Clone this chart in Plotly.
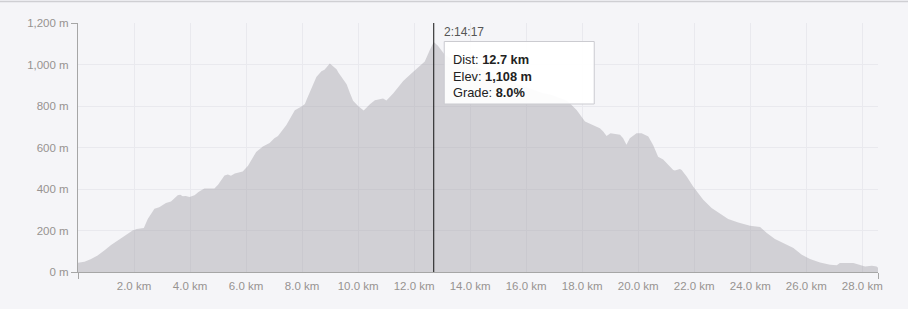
import plotly.graph_objects as go

# ---- data ----
dist_km = [0.0, 0.23, 0.45, 0.7, 0.95, 1.18, 1.54, 1.75, 1.95, 2.1, 2.25, 2.35, 2.49, 2.6, 2.73, 2.9,
           3.14, 3.32, 3.45, 3.56, 3.65, 3.74, 3.85, 3.98, 4.16, 4.3, 4.51, 4.87, 5.0, 5.23, 5.35, 5.46,
           5.6, 5.78, 5.88, 6.07, 6.2, 6.36, 6.6, 6.84, 7.01, 7.14, 7.44, 7.6, 7.74, 7.98, 8.1, 8.16,
           8.34, 8.51, 8.69, 8.8, 8.99, 9.1, 9.23, 9.3, 9.41, 9.5, 9.59, 9.7, 9.82, 10.0, 10.2, 10.42,
           10.6, 10.89, 11.01, 11.25, 11.61, 11.91, 12.2, 12.38, 12.56, 12.7, 12.85, 13.1, 13.4, 13.8,
           14.2, 14.6, 15.0, 15.4, 15.8, 16.2, 16.6, 16.85, 17.2, 17.45, 17.62, 17.8, 18.1, 18.27,
           18.63, 18.75, 18.87, 19.01, 19.35, 19.46, 19.58, 19.7, 19.94, 20.12, 20.36, 20.54, 20.71,
           20.89, 21.13, 21.25, 21.31, 21.49, 21.55, 21.73, 21.96, 22.32, 22.62, 22.92, 23.21, 23.57,
           23.99, 24.35, 24.59, 24.88, 25.24, 25.54, 25.84, 26.13, 26.49, 26.85, 27.09, 27.2, 27.68,
           27.92, 28.1, 28.34, 28.51, 28.56]
elev_m = [45, 50, 62, 80, 105, 130, 163, 182, 200, 207, 212, 212, 255, 280, 305, 312,
          333, 340, 355, 370, 372, 365, 366, 362, 370, 385, 402, 402, 420, 465, 470, 464,
          475, 480, 484, 512, 545, 578, 605, 622, 645, 656, 709, 750, 780, 798, 810, 830,
          886, 940, 968, 975, 1005, 992, 977, 960, 940, 925, 905, 865, 825, 800, 778, 808,
          828, 836, 826, 860, 920, 958, 992, 1014, 1070, 1108, 1090, 1046, 1020, 1000,
          985, 965, 945, 925, 900, 880, 862, 855, 838, 825, 805, 781, 725, 714,
          693, 677, 656, 669, 661, 645, 613, 645, 669, 669, 653, 610, 556,
          542, 508, 492, 489, 496, 492, 460, 412, 348, 308, 281, 255, 239,
          223, 217, 188, 159, 136, 116, 83, 63, 46, 35, 32, 43, 43,
          35, 27, 30, 27, 20]

x_tickvals = [2, 4, 6, 8, 10, 12, 14, 16, 18, 20, 22, 24, 26, 28]
x_ticktext = [f"{v:.1f} km" for v in x_tickvals]
y_tickvals = [0, 200, 400, 600, 800, 1000, 1200]
y_ticktext = [f"{v:,} m" for v in y_tickvals]

cursor_km = 12.7
cursor_elev = 1108
cursor_grade = 8.0
cursor_time = "2:14:17"

x_end = dist_km[-1]
y_max = 1200

BG = "#f5f5f8"
GRID = "#e9e9ee"
AXIS = "#a6a6a6"
LABEL = "#979391"
FONT = "Liberation Sans, Helvetica, Arial, sans-serif"

fig = go.Figure()
fig.add_trace(go.Scatter(
    x=dist_km, y=elev_m, mode="lines", fill="tozeroy",
    fillcolor="rgba(155,153,160,0.40)", line=dict(width=0, color="rgba(0,0,0,0)"),
    hoverinfo="skip", showlegend=False,
))

fig.update_layout(
    width=908, height=309,
    margin=dict(l=78, r=30, t=23, b=37, pad=0),
    paper_bgcolor=BG, plot_bgcolor=BG,
    font=dict(family=FONT, size=11.5, color=LABEL),
    hovermode=False,
    showlegend=False,
)
fig.update_xaxes(
    range=[0, x_end], tickvals=x_tickvals, ticktext=x_ticktext,
    showgrid=True, gridcolor=GRID, gridwidth=1,
    showline=True, linecolor=AXIS, linewidth=1,
    ticks="", zeroline=False, ticklabelstandoff=3,
    minor=dict(tickvals=[0, x_end], ticks="outside", ticklen=6, tickcolor=AXIS, showgrid=False),
    fixedrange=True,
)
fig.update_yaxes(
    range=[0, y_max], tickvals=y_tickvals, ticktext=y_ticktext,
    showgrid=True, gridcolor=GRID, gridwidth=1,
    showline=True, linecolor=AXIS, linewidth=1,
    ticks="", zeroline=False, ticklabelstandoff=6,
    minor=dict(tickvals=[0, y_max], ticks="outside", ticklen=6, tickcolor=AXIS, showgrid=False),
    fixedrange=True,
)

# top border line of the panel
fig.add_shape(type="line", xref="paper", yref="paper", ysizemode="pixel", yanchor=1,
              x0=-0.2, x1=1.2, y0=21.5, y1=21.5, line=dict(color="#cfcfd3", width=1.5))

# cursor line
fig.add_shape(type="line", xref="x", yref="paper", x0=cursor_km, x1=cursor_km, y0=0, y1=1,
              line=dict(color="#111111", width=1))

# tooltip box
fig.add_shape(type="rect", xref="x", xsizemode="pixel", xanchor=cursor_km, x0=10.5, x1=160.5,
              yref="paper", ysizemode="pixel", yanchor=1, y0=-18.5, y1=-81,
              fillcolor="rgba(255,255,255,0.93)", line=dict(color="#cbcbd0", width=1), layer="above")

fig.add_annotation(xref="x", yref="paper", x=cursor_km, y=1, xanchor="left", yanchor="middle",
                   xshift=8, yshift=-9, text=cursor_time, showarrow=False,
                   font=dict(family=FONT, size=12, color="#555555"))

tip = (f"Dist: <b>{cursor_km:.1f} km</b><br>"
       f"Elev: <b>{cursor_elev:,} m</b><br>"
       f"Grade: <b>{cursor_grade:.1f}%</b>")
fig.add_annotation(xref="x", yref="paper", x=cursor_km, y=1, xanchor="left", yanchor="top",
                   xshift=17, yshift=-27, text=tip, showarrow=False, align="left",
                   font=dict(family=FONT, size=12.8, color="#222222"))

fig.write_html("out.html")
